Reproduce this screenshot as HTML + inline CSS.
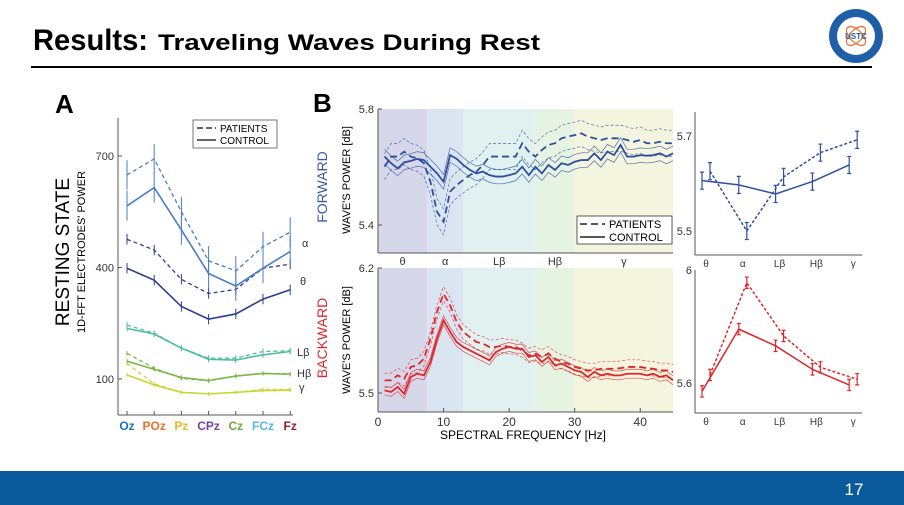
<!DOCTYPE html>
<html><head><meta charset="utf-8"><style>
body{margin:0;width:904px;height:505px;overflow:hidden;background:#fff;font-family:"Liberation Sans",sans-serif}
svg{display:block}
</style></head><body>
<svg id="s" width="904" height="505" xmlns="http://www.w3.org/2000/svg" font-family="Liberation Sans, sans-serif">
<text x="33" y="50" font-size="30" font-weight="bold" textLength="115" lengthAdjust="spacingAndGlyphs">Results:</text>
<text x="158" y="50" font-size="22" font-weight="bold" textLength="382" lengthAdjust="spacingAndGlyphs">Traveling Waves During Rest</text>
<line x1="31" y1="67" x2="872" y2="67" stroke="#000" stroke-width="2"/>
<g>
<circle cx="856" cy="36" r="27" fill="#1f5fa8"/><circle cx="856" cy="36" r="19" fill="#fff"/>
<ellipse cx="856" cy="36" rx="12" ry="6" fill="none" stroke="#e8702a" stroke-width="1.2" transform="rotate(45 856 36)"/>
<ellipse cx="856" cy="36" rx="12" ry="6" fill="none" stroke="#e8702a" stroke-width="1.2" transform="rotate(-45 856 36)"/>
<text x="856" y="39" font-size="8" font-weight="bold" fill="#1f5fa8" text-anchor="middle">USTC</text>
</g>
<rect x="0" y="471" width="904" height="34" fill="#0a5a9c"/>
<text x="854" y="495" font-size="17" fill="#fff" text-anchor="middle">17</text>
<g id="A"></g><g id="B"></g><g id="C"></g>
</svg>
<script>
// ---------- Panel A data ----------
const aCats=['Oz','POz','Pz','CPz','Cz','FCz','Fz'];
const aCatColors=['#1f6fb5','#e8702a','#f0b429','#7b3fa0','#6aaa3a','#56b8e8','#9b1b30'];
const alphaPat=[649,692,550,418,391,456,495];
const alphaCon=[566,615,501,384,350,398,443];
const thetaPat=[476,447,368,330,341,398,409];
const thetaCon=[398,366,295,261,275,315,340];
const lbPat=[245,223,183,156,156,174,176];
const lbCon=[236,221,183,153,151,165,174];
const hbPat=[169,129,102,95,108,115,113];
const hbCon=[148,126,104,96,108,115,113];
const gPat=[142,87,64,60,64,72,72];
const gCon=[111,84,64,60,64,69,70];
const aTicks=[100,400,700];
// ---------- Panel B data (1..45 Hz) ----------
const freqs=[1,2,3,4,5,6,7,8,9,10,11,12,13,14,15,16,17,18,19,20,21,22,23,24,25,26,27,28,29,30,31,32,33,34,35,36,37,38,39,40,41,42,43,44,45];
const fwdCon=[5.636,5.613,5.595,5.616,5.621,5.628,5.624,5.601,5.578,5.549,5.641,5.628,5.607,5.590,5.578,5.584,5.572,5.567,5.567,5.572,5.578,5.601,5.572,5.601,5.578,5.607,5.590,5.613,5.607,5.618,5.624,5.624,5.647,5.624,5.653,5.641,5.676,5.636,5.636,5.641,5.639,5.641,5.647,5.636,5.647];
const fwdPat=[5.601,5.636,5.636,5.653,5.636,5.630,5.613,5.549,5.446,5.411,5.515,5.538,5.555,5.572,5.584,5.607,5.636,5.636,5.636,5.636,5.636,5.682,5.653,5.636,5.659,5.676,5.682,5.699,5.705,5.710,5.716,5.705,5.699,5.693,5.699,5.699,5.699,5.693,5.687,5.693,5.682,5.682,5.687,5.682,5.682];
const bwdCon=[5.515,5.506,5.534,5.496,5.590,5.608,5.599,5.674,5.804,5.907,5.842,5.786,5.758,5.739,5.720,5.702,5.683,5.730,5.748,5.758,5.748,5.748,5.702,5.711,5.674,5.702,5.655,5.664,5.646,5.627,5.618,5.590,5.618,5.599,5.608,5.599,5.599,5.608,5.608,5.608,5.599,5.608,5.590,5.599,5.571];
const bwdPat=[5.571,5.571,5.599,5.580,5.646,5.655,5.692,5.804,5.954,6.056,5.991,5.898,5.842,5.814,5.786,5.776,5.758,5.758,5.767,5.758,5.758,5.739,5.711,5.720,5.702,5.720,5.692,5.674,5.664,5.646,5.636,5.627,5.627,5.636,5.636,5.636,5.639,5.646,5.646,5.646,5.639,5.636,5.627,5.627,5.618];
const bands=['θ','α','Lβ','Hβ','γ'];
const bandEdges=[0,7.5,13,24,30,45];
const bandColors=['#d7d7ea','#dbe5f2','#e0f1ef','#e6f3e3','#f3f5de'];
// ---------- Panel C data ----------
const fwdBandCon=[5.606,5.597,5.578,5.604,5.639];
const fwdBandPat=[5.626,5.500,5.614,5.665,5.692];
const bwdBandCon=[5.571,5.791,5.732,5.649,5.594];
const bwdBandPat=[5.629,5.955,5.767,5.656,5.614];

const NS='http://www.w3.org/2000/svg';
function mk(parent,tag,attrs,name){const e=document.createElementNS(NS,tag);for(const k in attrs)e.setAttribute(k,attrs[k]);


parent.appendChild(e);return e;}
function txt(parent,x,y,s,size,name,extra){const t=mk(parent,'text',Object.assign({x:x,y:y,'font-size':size},extra||{}),name);t.textContent=s;return t;}

// ===== Panel A =====
const A=document.getElementById('A');
const ax=i=>127+i*27.2, ay=v=>379-(v-100)*0.3717;
txt(A,55,113,'A',26,'panel-a-label',{'font-weight':'bold'});
mk(A,'line',{x1:118,y1:118,x2:118,y2:415,stroke:'#555','stroke-width':1},'y-axis');
mk(A,'line',{x1:118,y1:415,x2:293,y2:415,stroke:'#555','stroke-width':1},'x-axis');
aTicks.forEach(t=>{mk(A,'line',{x1:118,y1:ay(t),x2:122,y2:ay(t),stroke:'#555'},'y-tick');txt(A,114,ay(t)+4,String(t),11,'y-tick-label',{'text-anchor':'end',fill:'#333'});});
aCats.forEach((c,i)=>{mk(A,'line',{x1:ax(i),y1:415,x2:ax(i),y2:411,stroke:'#555'},'x-tick');txt(A,ax(i),430,c,12,'x-label-'+c,{'text-anchor':'middle','font-weight':'bold',fill:aCatColors[i]});});
txt(A,0,0,'RESTING STATE',19,'y-axis-title',{transform:'translate(69,252) rotate(-90)','text-anchor':'middle'});
txt(A,0,0,"1D-FFT ELECTRODES' POWER",11,'y-axis-subtitle',{transform:'translate(85,252) rotate(-90)','text-anchor':'middle'});
const aSeries=[[gCon,gPat,'#c9d633',5,'γ'],[hbCon,hbPat,'#7ab648',6,'Hβ'],[lbCon,lbPat,'#4cbfa0',8,'Lβ'],[thetaCon,thetaPat,'#2a3e8f',14,'θ'],[alphaCon,alphaPat,'#4a7cc4',40,'α']];
aSeries.forEach(([c,p,col,err,nm])=>{
  [[p,'4,3','patients'],[c,null,'control']].forEach(([d,dash,g])=>{
    const pts=d.map((v,i)=>ax(i)+','+ay(v)).join(' ');
    const at={points:pts,fill:'none',stroke:col,'stroke-width':g=='control'?1.6:1.3};if(dash)at['stroke-dasharray']=dash;
    mk(A,'polyline',at,'line-'+nm+'-'+g);
    d.forEach((v,i)=>mk(A,'line',{x1:ax(i),y1:ay(v-err),x2:ax(i),y2:ay(v+err),stroke:col,'stroke-width':1},'errbar-'+nm+'-'+g));
  });
});
txt(A,302,247,'α',11,'band-label-alpha',{fill:'#333'});
txt(A,300,285,'θ',11,'band-label-theta',{fill:'#333'});
txt(A,297,356,'Lβ',11,'band-label-lbeta',{fill:'#333'});
txt(A,297,377,'Hβ',11,'band-label-hbeta',{fill:'#333'});
txt(A,299,391,'γ',11,'band-label-gamma',{fill:'#333'});
mk(A,'rect',{x:193,y:120,width:84,height:28,fill:'#fff',stroke:'#555','stroke-width':0.8},'legend-box');
mk(A,'line',{x1:197,y1:128,x2:216,y2:128,stroke:'#333','stroke-width':1.4,'stroke-dasharray':'6,3'},'legend-patients-line');
mk(A,'line',{x1:197,y1:140,x2:216,y2:140,stroke:'#333','stroke-width':1.4},'legend-control-line');
txt(A,220,132,'PATIENTS',10,'legend-patients',{});
txt(A,220,144,'CONTROL',10,'legend-control',{});

// ===== Panel B =====
const B=document.getElementById('B');
const bx=f=>378+f*6.556;
txt(B,313,112,'B',26,'panel-b-label',{'font-weight':'bold'});
function bPlot(top,bot,yv,ymax,yScale,con,pat,col,ci1,ci2,tag,ticks){
  const yy=v=>top+(ymax-v)*yScale;
  bands.forEach((b,i)=>mk(B,'rect',{x:bx(bandEdges[i]),y:top,width:bx(bandEdges[i+1])-bx(bandEdges[i]),height:bot-top,fill:bandColors[i]},'band-bg-'+tag));
  mk(B,'line',{x1:378,y1:top,x2:378,y2:bot,stroke:'#555'},'y-axis-'+tag);
  mk(B,'line',{x1:378,y1:bot,x2:673,y2:bot,stroke:'#555'},'x-axis-'+tag);
  ticks.forEach(t=>{txt(B,374,yy(t)+4,t.toFixed(1),11,'y-tick-label-'+tag,{'text-anchor':'end',fill:'#333'});mk(B,'line',{x1:378,y1:yy(t),x2:382,y2:yy(t),stroke:'#555'},'y-tick-'+tag);});
  [[pat,ci2,'3,2',0.8],[con,ci1,null,0.8]].forEach(([d,ci,dash])=>{
    [-ci,ci].forEach(o=>{const a={points:d.map((v,i)=>bx(freqs[i])+','+yy(v+o)).join(' '),fill:'none',stroke:col,'stroke-width':0.7,opacity:0.8};if(dash)a['stroke-dasharray']=dash;mk(B,'polyline',a,'ci-'+tag);});
  });
  mk(B,'polyline',{points:pat.map((v,i)=>bx(freqs[i])+','+yy(v)).join(' '),fill:'none',stroke:col,'stroke-width':1.8,'stroke-dasharray':'7,4'},'line-patients-'+tag);
  mk(B,'polyline',{points:con.map((v,i)=>bx(freqs[i])+','+yy(v)).join(' '),fill:'none',stroke:col,'stroke-width':1.8},'line-control-'+tag);
}
bPlot(109,253,null,5.8,290,fwdCon,fwdPat,'#2d4f9e',0.025,0.045,'forward',[5.8,5.4]);
bPlot(268,412,null,6.2,178.6,bwdCon,bwdPat,'#e0262a',0.025,0.04,'backward',[6.2,5.5]);
bands.forEach((b,i)=>{const c=(bandEdges[i]+bandEdges[i+1])/2;txt(B,bx(c),265,b,11,'band-label',{'text-anchor':'middle',fill:'#333'});});
[0,10,20,30,40].forEach(t=>{mk(B,'line',{x1:bx(t),y1:412,x2:bx(t),y2:408,stroke:'#555'},'x-tick');txt(B,bx(t),426,String(t),12,'x-tick-label',{'text-anchor':'middle',fill:'#333'});});
txt(B,523,439,'SPECTRAL FREQUENCY [Hz]',12,'x-axis-title',{'text-anchor':'middle'});
txt(B,0,0,'FORWARD',14,'forward-label',{transform:'translate(327,187) rotate(-90)','text-anchor':'middle',fill:'#3a5aa8'});
txt(B,0,0,'BACKWARD',14,'backward-label',{transform:'translate(327,338) rotate(-90)','text-anchor':'middle',fill:'#e0262a'});
txt(B,0,0,"WAVE'S POWER [dB]",11,'y-axis-title-forward',{transform:'translate(350,180) rotate(-90)','text-anchor':'middle'});
txt(B,0,0,"WAVE'S POWER [dB]",11,'y-axis-title-backward',{transform:'translate(350,340) rotate(-90)','text-anchor':'middle'});
mk(B,'rect',{x:577,y:216,width:95,height:28,fill:'#fff',stroke:'#333','stroke-width':0.8},'legend-box-b');
mk(B,'line',{x1:580,y1:224,x2:605,y2:224,stroke:'#222','stroke-width':1.6,'stroke-dasharray':'7,4'},'legend-patients-line-b');
mk(B,'line',{x1:580,y1:237,x2:605,y2:237,stroke:'#222','stroke-width':1.6},'legend-control-line-b');
txt(B,609,228,'PATIENTS',11,'legend-patients-b',{});
txt(B,609,241,'CONTROL',11,'legend-control-b',{});

// ===== Panel C =====
const C=document.getElementById('C');
const cx=i=>706+i*36.8;
function cPlot(top,bot,ymax,sc,con,pat,col,err,tag,ticks){
  const yy=v=>top+(ymax-v)*sc;
  mk(C,'line',{x1:695,y1:bot-143,x2:695,y2:bot,stroke:'#555'},'y-axis-'+tag);
  mk(C,'line',{x1:695,y1:bot,x2:862,y2:bot,stroke:'#555'},'x-axis-'+tag);
  ticks.forEach(t=>{txt(C,692,yy(t)+4,String(t),11,'y-tick-label-'+tag,{'text-anchor':'end',fill:'#333'});});
  bands.forEach((b,i)=>txt(C,cx(i),bot+12,b,10,'x-label-'+tag,{'text-anchor':'middle',fill:'#333'}));
  [[pat,4,'3,2','patients'],[con,-4,null,'control']].forEach(([d,off,dash,g])=>{
    const a={points:d.map((v,i)=>(cx(i)+off)+','+yy(v)).join(' '),fill:'none',stroke:col,'stroke-width':1.5};if(dash)a['stroke-dasharray']=dash;
    mk(C,'polyline',a,'line-'+g+'-'+tag);
    d.forEach((v,i)=>{const x=cx(i)+off;
      mk(C,'path',{d:`M${x},${yy(v-err)}V${yy(v+err)}M${x-2},${yy(v-err)}h4M${x-2},${yy(v+err)}h4`,stroke:col,'stroke-width':1.2,fill:'none'},'errbar-'+g+'-'+tag);});
  });
}
cPlot(136,255,5.7,475,fwdBandCon,fwdBandPat,'#2d4f9e',0.018,'forward',[5.7,5.5]);
cPlot(270,413,6.0,283,bwdBandCon,bwdBandPat,'#e0262a',0.02,'backward',[6,5.6]);
</script>
</body></html>
